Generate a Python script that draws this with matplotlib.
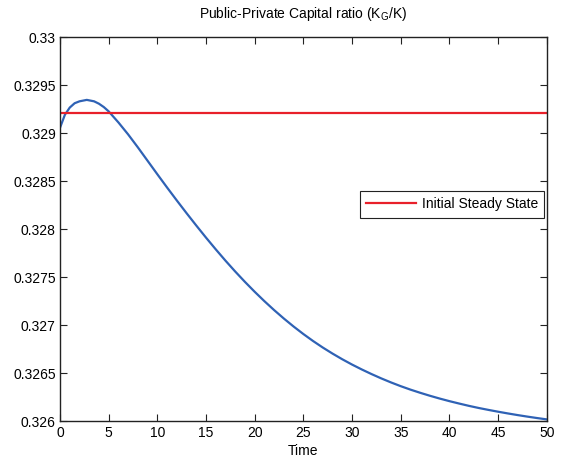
import matplotlib
matplotlib.use('Agg')
from matplotlib import pyplot as plt

plt.rcParams['font.family'] = ['Liberation Sans', 'DejaVu Sans']
plt.rcParams['font.size'] = 10

# K_G/K path over time
t = [0, 0.5, 1, 1.5, 2, 2.75, 3.5, 4, 4.5, 5, 6, 7, 8, 9, 10, 11, 12, 13, 14,
     15, 16, 17, 18, 19, 20, 21, 22, 23, 24, 25, 26, 27, 28, 29, 30, 31, 32,
     33, 34, 35, 36, 37, 38, 39, 40, 41, 42, 43, 44, 45, 46, 47, 48, 49, 50]
ratio = [0.329060, 0.329195, 0.329270, 0.329315, 0.329335, 0.329350,
         0.329335, 0.329310, 0.329275, 0.329230, 0.329115, 0.328990,
         0.328855, 0.328715, 0.328575, 0.328437, 0.328302, 0.328170,
         0.328041, 0.327915, 0.327793, 0.327675, 0.327562, 0.327454,
         0.327351, 0.327253, 0.327160, 0.327072, 0.326989, 0.326911,
         0.326838, 0.326770, 0.326707, 0.326648, 0.326593, 0.326542,
         0.326494, 0.326449, 0.326407, 0.326368, 0.326332, 0.326299,
         0.326268, 0.326239, 0.326212, 0.326187, 0.326163, 0.326141,
         0.326121, 0.326102, 0.326084, 0.326067, 0.326051, 0.326036,
         0.326022]
steady_state = 0.32921

xticks = [0, 5, 10, 15, 20, 25, 30, 35, 40, 45, 50]
yticks = [0.326, 0.3265, 0.327, 0.3275, 0.328, 0.3285, 0.329, 0.3295, 0.33]
ytick_labels = ['0.326', '0.3265', '0.327', '0.3275', '0.328', '0.3285',
                '0.329', '0.3295', '0.33']

fig = plt.figure(figsize=(5.62, 4.61), dpi=100)
ax = fig.add_axes([0.1068, 0.0857, 0.866, 0.833])

ax.plot(t, ratio, color='#2f62b5', lw=1.6)
ax.axhline(steady_state, color='#e8202a', lw=1.6, label='Initial Steady State')

ax.set_xlim(0, 50)
ax.set_ylim(0.326, 0.33)
ax.set_xticks(xticks)
ax.set_yticks(yticks)
ax.set_yticklabels(ytick_labels)
ax.tick_params(direction='in', length=5, width=0.8, top=True, right=True,
               colors='#222222', labelcolor='black', labelsize=10, pad=3)
for s in ax.spines.values():
    s.set_linewidth(1.0)
    s.set_color('#222222')

ax.set_xlabel('Time', labelpad=3)
ax.set_title(r'Public-Private Capital ratio (K$_\mathregular{G}$/K)',
             fontsize=10, pad=14)

leg = ax.legend(loc='upper right', bbox_to_anchor=(0.9945, 0.600),
                fancybox=False, framealpha=1, edgecolor='#222222',
                handlelength=3.6, handletextpad=0.4, borderpad=0.45,
                borderaxespad=0, fontsize=10)
leg.get_frame().set_linewidth(0.8)

fig.savefig('out.png', dpi=100)
